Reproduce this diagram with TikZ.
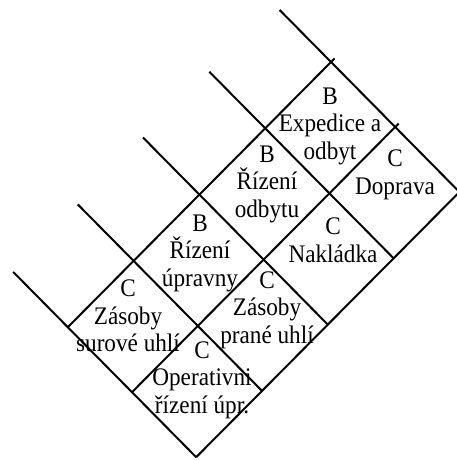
\documentclass[tikz,border=0pt]{standalone}
\usepackage{graphicx}
\usepackage{fontspec}
\setmainfont{Liberation Serif}
\newcommand\stl[1]{\scalebox{1}[1.09]{#1}}
\begin{document}
\begin{tikzpicture}[x=1pt,y=-1pt,
  gridline/.style={line width=2pt,black},
  celltext/.style={align=center,inner sep=0pt,font=\fontsize{23.2}{27.5}\selectfont}]
\useasboundingbox (0,0) rectangle (457,460);
% grid vertices V(i,j)
\foreach \i in {0,...,4}{
  \foreach \j in {0,1,2}{
    \coordinate (V\i\j) at ({331-65.8*\i+64.2*\j},{62+66.3*\i+65*\j});
  }
}
% top ends of the descending lines
\foreach \i/\t in {0/0.8,1/0.87,2/0.88,3/0.87,4/0.85}{
  \coordinate (S\i) at ({331-65.8*\i-64.2*\t},{62+66.3*\i-65*\t});
}
% small overshoots at the top of the rising lines
\foreach \j in {0,1,2}{
  \coordinate (T\j) at ({331+3.5+64.2*\j},{62-3.5+65*\j});
}
% descending lines
\foreach \i in {0,...,4}{
  \draw[gridline] (S\i) -- (V\i2);
}
% rising lines
\foreach \j in {0,1,2}{
  \draw[gridline] (V4\j) -- (T\j);
}
% cell texts
\node[celltext] (expedice) at (330,126) {\stl{B}\\\stl{Expedice a}\\\stl{odbyt}};
\node[celltext] (rodbytu) at (267,184) {\stl{B}\\\stl{Řízení}\\\stl{odbytu}};
\node[celltext] (doprava) at (395,175) {\stl{C}\\\stl{Doprava}};
\node[celltext] (rupravny) at (200,253) {\stl{B}\\\stl{Řízení}\\\stl{úpravny}};
\node[celltext] (nakladka) at (333,240) {\stl{C}\\\stl{Nakládka}};
\node[celltext] (zsurove) at (128,316) {\stl{C}\\\stl{Zásoby}\\\stl{surové uhlí}};
\node[celltext] (zprane) at (267,310) {\stl{C}\\\stl{Zásoby}\\\stl{prané uhlí}};
\node[celltext] (operativ) at (202,380) {\stl{C}\\\stl{Operativni}\\\stl{řízení úpr.}};
\end{tikzpicture}
\end{document}
